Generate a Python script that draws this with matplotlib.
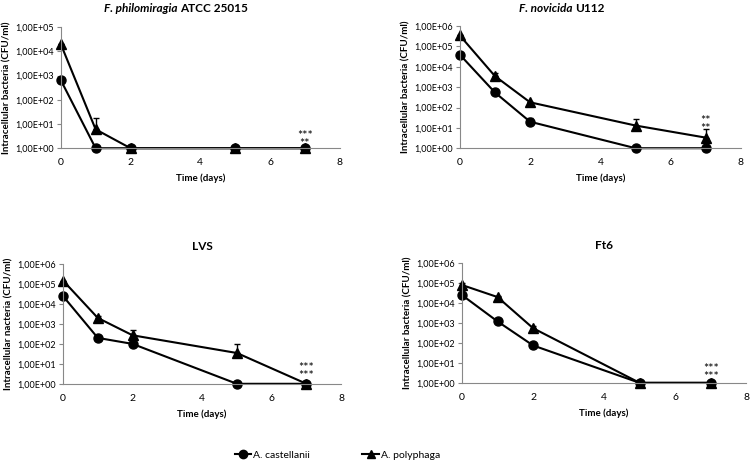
import math
import matplotlib
matplotlib.use("Agg")
import matplotlib.pyplot as plt
from matplotlib.lines import Line2D
from matplotlib.ticker import FixedLocator, FuncFormatter

plt.rcParams['font.family'] = ['Lato', 'DejaVu Sans']

days = [0, 1, 2, 5, 7]

# F. philomiragia ATCC 25015
phil_cast = [650, 1, 1, 1, 1]
phil_cast_err = [0, 0, 0, 0, 0]
phil_poly = [20000, 6, 1, 1, 1]
phil_poly_err = [0, 11, 0, 0, 0]

# F. novicida U112
nov_cast = [40000, 550, 20, 1, 1]
nov_cast_err = [0, 0, 10, 0, 0]
nov_poly = [350000, 3500, 180, 13, 3.3]
nov_poly_err = [0, 1500, 0, 15, 5.5]

# LVS
lvs_cast = [25000, 200, 100, 1, 1]
lvs_cast_err = [0, 0, 30, 0, 0]
lvs_poly = [150000, 2000, 270, 35, 1]
lvs_poly_err = [0, 500, 230, 60, 0]

# Ft6
ft6_cast = [25000, 1200, 75, 1, 1]
ft6_cast_err = [0, 0, 0, 0, 0]
ft6_poly = [80000, 20000, 550, 1, 1]
ft6_poly_err = [20000, 3000, 150, 0, 0]

# significance marks at day 7
phil_stars = "***\n**"
nov_stars = "**\n**"
lvs_stars = "***\n***"
ft6_stars = "***\n***"

panels = [
    (phil_cast, phil_cast_err, phil_poly, phil_poly_err, 5,
     "Intracellular bacteria (CFU/ml)", phil_stars, 2.1, [0.081, 0.688, 0.372, 0.255]),
    (nov_cast, nov_cast_err, nov_poly, nov_poly_err, 6,
     "Intracellular bacteria (CFU/ml)", nov_stars, 14, [0.613, 0.688, 0.375, 0.257]),
    (lvs_cast, lvs_cast_err, lvs_poly, lvs_poly_err, 6,
     "Intracellular nacteria (CFU/ml)", lvs_stars, 3.8, [0.084, 0.192, 0.371, 0.252]),
    (ft6_cast, ft6_cast_err, ft6_poly, ft6_poly_err, 6,
     "Intracellular bacteria (CFU/ml)", ft6_stars, 3.3, [0.616, 0.194, 0.379, 0.252]),
]


def sci_comma(v, pos):
    return "1,00E+%02d" % round(math.log10(v))


fig = plt.figure(figsize=(7.5, 4.75), dpi=100)
axes = []

for cast, cast_err, poly, poly_err, top, ylab, stars, star_y, rect in panels:
    ax = fig.add_axes(rect)
    axes.append(ax)
    ax.errorbar(days, cast, yerr=[[0] * 5, cast_err], color="black", lw=1.5,
                marker="o", ms=6.5, capsize=2, elinewidth=1, clip_on=False)
    ax.errorbar(days, poly, yerr=[[0] * 5, poly_err], color="black", lw=1.5,
                marker="^", ms=6.5, capsize=2, elinewidth=1, clip_on=False)
    ax.set_yscale("log")
    ax.set_ylim(1, 10 ** top)
    ax.set_xlim(0, 8)
    ax.yaxis.set_major_locator(FixedLocator([10 ** i for i in range(top + 1)]))
    ax.yaxis.set_minor_locator(FixedLocator([]))
    ax.yaxis.set_major_formatter(FuncFormatter(sci_comma))
    ax.set_xticks([0, 2, 4, 6, 8])
    ax.tick_params(axis="y", labelsize=6.5, length=3, pad=2, color="#888888")
    ax.tick_params(axis="x", labelsize=7.5, length=0, pad=7)
    for s in ["top", "right"]:
        ax.spines[s].set_visible(False)
    for s in ["left", "bottom"]:
        ax.spines[s].set_color("#888888")
    ax.set_ylabel(ylab, fontsize=7, fontweight="bold", labelpad=3)
    ax.set_xlabel("Time (days)", fontsize=7, fontweight="bold", labelpad=5)
    ax.text(7, star_y, stars, ha="center", va="center", fontsize=9,
            linespacing=0.6, multialignment="center")

# titles
fig.text(0.236, 0.983, "F. philomiragia", style="italic", fontweight="bold",
         fontsize=8.5, ha="right", va="center")
fig.text(0.240, 0.983, "ATCC 25015", fontweight="bold", fontsize=8.5, ha="left", va="center")
fig.text(0.763, 0.983, "F. novicida", style="italic", fontweight="bold",
         fontsize=8.5, ha="right", va="center")
fig.text(0.767, 0.983, "U112", fontweight="bold", fontsize=8.5, ha="left", va="center")
axes[2].set_title("LVS", fontsize=8.5, fontweight="bold", pad=10)
axes[3].set_title("Ft6", fontsize=8.5, fontweight="bold", pad=10)

handles = [Line2D([], [], color="black", lw=1.5, marker="o", ms=6),
           Line2D([], [], color="black", lw=1.5, marker="^", ms=6)]
fig.legend(handles, ["A. castellanii", "A. polyphaga"], loc="center",
           bbox_to_anchor=(0.45, 0.042), ncol=2, frameon=False, fontsize=7.5,
           handlelength=1.6, handletextpad=0.2, columnspacing=5)

fig.savefig("out.png", dpi=100)
